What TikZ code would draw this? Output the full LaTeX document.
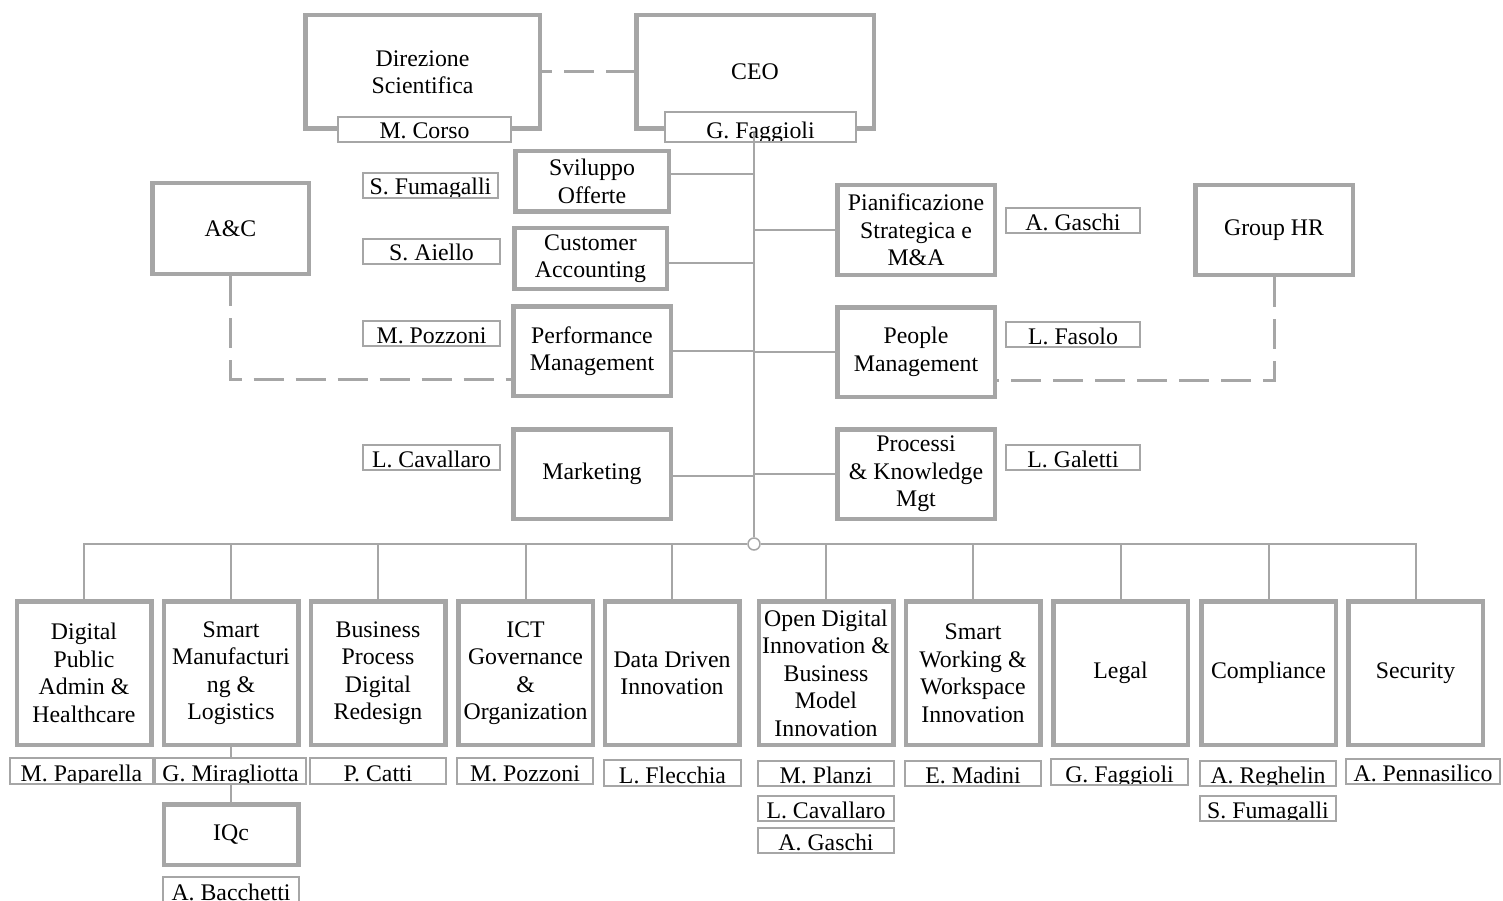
\documentclass[tikz,border=0pt]{standalone}
\usepackage{fontspec}
\setmainfont{Liberation Serif}
\definecolor{ln}{RGB}{166,166,166}
\tikzset{
  x=1pt, y=-1pt,
  txt/.style={font=\fontsize{23.8}{27.5}\selectfont},
  bigbox/.style={draw=ln, line width=4.5pt, fill=white, align=center, inner sep=0pt, txt},
  staffbox/.style={bigbox, minimum width=157.5pt, minimum height=89.5pt},
  unitbox/.style={bigbox, minimum width=134.5pt, minimum height=143.5pt},
  nametext/.style={txt, inner sep=0pt, anchor=base},
  namebox/.style={draw=ln, line width=1.5pt, fill=white, inner sep=0pt,
    minimum width=136pt, minimum height=25pt,
    path picture={\node[nametext] at ([yshift=3pt]path picture bounding box.south) {#1};}},
  link/.style={draw=ln, line width=2pt},
  dotted link/.style={draw=ln, line width=3pt, dash pattern=on 30pt off 12pt},
}
\begin{document}
\begin{tikzpicture}
\useasboundingbox (0,0) rectangle (1503,901);

% top management
\node[bigbox, minimum width=234.5pt, minimum height=113.5pt] (dir) at (422.5,72) {Direzione\\Scientifica};
\node[bigbox, minimum width=237.5pt, minimum height=113.5pt] (ceo) at (755,72) {CEO};
\node[namebox={M. Corso}, minimum width=173pt] (ndir) at (424.5,129.5) {};
\node[namebox={G. Faggioli}, minimum width=191pt, minimum height=30pt] (nceo) at (760.5,127) {};
\draw[dotted link, dash phase=20pt] (dir.east) -- (ceo.west);

% staff functions, left
\node[bigbox, minimum width=153.5pt, minimum height=60.5pt] (svil) at (592,181.5) {Sviluppo\\Offerte};
\node[bigbox, minimum width=152.5pt, minimum height=60.5pt] (cust) at (590.5,258.5) {Customer\\Accounting};
\node[staffbox] (perf) at (592,351) {Performance\\Management};
\node[staffbox] (mkt) at (592,474) {Marketing};
\node[staffbox, minimum width=156.5pt, minimum height=90.5pt] (ac) at (230.5,228.5) {A\&C};

\node[namebox={S. Fumagalli}, minimum width=135pt] (nsvil) at (430.5,185.5) {};
\node[namebox={S. Aiello}, minimum width=137pt] (ncust) at (431.5,251.5) {};
\node[namebox={M. Pozzoni}, minimum width=137pt] (nperf) at (431.5,333.5) {};
\node[namebox={L. Cavallaro}, minimum width=137pt] (nmkt) at (431.5,457.5) {};

% staff functions, right
\node[staffbox] (pian) at (916,230) {Pianificazione\\Strategica e\\M\&A};
\node[staffbox] (ppl) at (916,352) {People\\Management};
\node[staffbox] (proc) at (916,474) {Processi\\\& Knowledge\\Mgt};
\node[staffbox] (hr) at (1274,230) {Group HR};

\node[namebox={A. Gaschi}, minimum width=134pt] (npian) at (1073,220.5) {};
\node[namebox={L. Fasolo}, minimum width=134pt] (nppl) at (1073,334.5) {};
\node[namebox={L. Galetti}, minimum width=134pt] (nproc) at (1073,457.5) {};

% hub of the business units
\node[circle, draw=ln, line width=1.5pt, fill=white, minimum size=12pt, inner sep=0pt] (hub) at (754,544) {};

% trunk and staff links
\draw[link] ([yshift=-6pt]nceo.center -| hub) -- (hub.north);
\draw[link] ([yshift=7.5pt]svil.east) -- ([yshift=7.5pt]svil.east -| hub);
\draw[link] ([yshift=-4.5pt]cust.east) -- ([yshift=-4.5pt]cust.east -| hub);
\draw[link] (perf.east) -- (perf.east -| hub);
\draw[link] ([yshift=-2pt]mkt.east) -- ([yshift=-2pt]mkt.east -| hub);
\draw[link] (pian.west) -- (pian.west -| hub);
\draw[link] (ppl.west) -- (ppl.west -| hub);
\draw[link] (proc.west) -- (proc.west -| hub);

\draw[dotted link] (ac.south) |- ([yshift=-28pt]perf.west);
\draw[dotted link] (hr.south) |- ([yshift=-28pt]ppl.east);

% business units
\node[unitbox] (u1) at (84,673) {Digital\\Public\\Admin \&\\Healthcare};
\node[unitbox] (u2) at (231,673) {Smart\\Manufacturi\\ng \&\\Logistics};
\node[unitbox] (u3) at (378,673) {Business\\Process\\Digital\\Redesign};
\node[unitbox] (u4) at (525.5,673) {ICT\\Governance\\\&\\Organization};
\node[unitbox] (u5) at (672,673) {Data Driven\\Innovation};
\node[unitbox] (u6) at (826,673) {Open Digital\\Innovation \&\\Business\\Model\\Innovation};
\node[unitbox] (u7) at (973,673) {Smart\\Working \&\\Workspace\\Innovation};
\node[unitbox] (u8) at (1120.5,673) {Legal};
\node[unitbox] (u9) at (1268.5,673) {Compliance};
\node[unitbox] (u10) at (1415.5,673) {Security};
\node[bigbox, minimum width=134.5pt, minimum height=60.5pt] (iqc) at (231,834.5) {IQc};

\draw[link] (u1.north) |- (hub.west);
\draw[link] (hub.east) -| (u10.north);
\foreach \u in {u2,u3,u4,u5,u6,u7,u8,u9}
  \draw[link] (\u.north) -- (\u.north |- hub);
\draw[link] (u2.south) -- (iqc.north);

% unit leaders
\node[namebox={M. Paparella}, minimum width=143pt, minimum height=26pt] (n1) at (81.5,771) {};
\node[namebox={G. Miragliotta}, minimum width=151pt, minimum height=26pt] (n2) at (230.5,771) {};
\node[namebox={P. Catti}, minimum height=26pt] (n3) at (378,771) {};
\node[namebox={M. Pozzoni}, minimum height=26pt] (n4) at (525,771) {};
\node[namebox={L. Flecchia}, minimum width=137pt, minimum height=26pt] (n5) at (672.5,773) {};
\node[namebox={M. Planzi}] (n6a) at (826,773.5) {};
\node[namebox={L. Cavallaro}] (n6b) at (826,808.5) {};
\node[namebox={A. Gaschi}] (n6c) at (826,840.5) {};
\node[namebox={E. Madini}] (n7) at (973,773.5) {};
\node[namebox={G. Faggioli}, minimum width=137pt, minimum height=26pt] (n8) at (1119.5,772) {};
\node[namebox={A. Reghelin}] (n9a) at (1268,773.5) {};
\node[namebox={S. Fumagalli}] (n9b) at (1268,808.5) {};
\node[namebox={A. Pennasilico}, minimum width=154pt] (n10) at (1423,771.5) {};
\node[namebox={A. Bacchetti}, minimum height=26pt] (niqc) at (231,890) {};
\end{tikzpicture}
\end{document}
